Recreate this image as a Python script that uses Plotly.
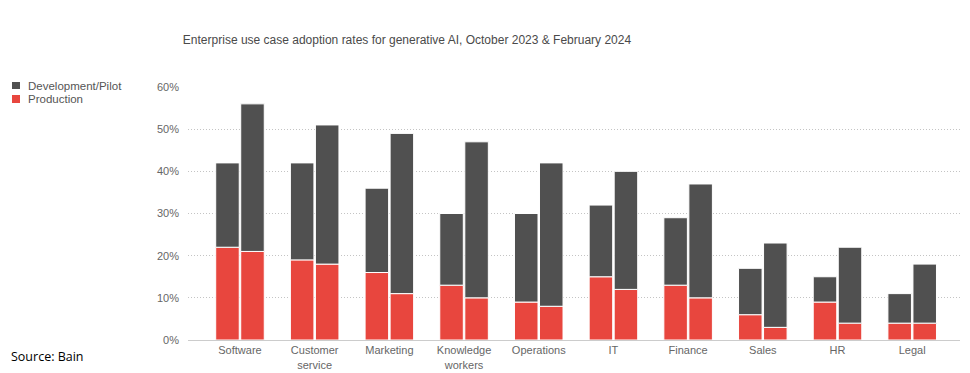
import plotly.graph_objects as go

categories = ["Software", "Customer<br>service", "Marketing", "Knowledge<br>workers", "Operations",
              "IT", "Finance", "Sales", "HR", "Legal"]
# Total adoption (%) and production share (%)
oct_total = [42, 42, 36, 30, 30, 32, 29, 17, 15, 11]
oct_prod = [22, 19, 16, 13, 9, 15, 13, 6, 9, 4]
feb_total = [56, 51, 49, 47, 42, 40, 37, 23, 22, 18]
feb_prod = [21, 18, 11, 10, 8, 12, 10, 3, 4, 4]
oct_dev = [t - p for t, p in zip(oct_total, oct_prod)]
feb_dev = [t - p for t, p in zip(feb_total, feb_prod)]
y_ticks = [0, 10, 20, 30, 40, 50, 60]
y_tick_labels = [f"{v}%" for v in y_ticks]

DARK = "#505050"
RED = "#E8463E"
W = 0.315
xi = list(range(len(categories)))

fig = go.Figure()
common = dict(width=W, marker_line_color="white", marker_line_width=1, showlegend=False,
              hoverinfo="skip")
fig.add_trace(go.Bar(x=xi, y=oct_prod, base=0, offset=-W - 0.01, marker_color=RED, **common))
fig.add_trace(go.Bar(x=xi, y=oct_dev, base=oct_prod, offset=-W - 0.01, marker_color=DARK, **common))
fig.add_trace(go.Bar(x=xi, y=feb_prod, base=0, offset=0.01, marker_color=RED, **common))
fig.add_trace(go.Bar(x=xi, y=feb_dev, base=feb_prod, offset=0.01, marker_color=DARK, **common))

# page offset of the figure (body margin)
OFF = 8
FW, FH = 970, 373
L, R, T, Bp = 188 - OFF, FW - (960 - OFF), 87 - OFF, 340 - OFF
B = FH - Bp
PW = FW - L - R
PH = FH - T - B

def px(x):
    return (x - OFF - L) / PW

def py(y):
    return (FH - B - (y - OFF)) / PH

shapes = [
    dict(type="rect", xref="paper", yref="paper", x0=px(12), x1=px(20), y0=py(89), y1=py(82),
         fillcolor=DARK, line_width=0),
    dict(type="rect", xref="paper", yref="paper", x0=px(12), x1=px(20), y0=py(103), y1=py(95),
         fillcolor=RED, line_width=0),
]
annotations = [
    dict(text="Development/Pilot", xref="paper", yref="paper", x=px(26), y=py(86), xanchor="left",
         yanchor="middle", showarrow=False, font=dict(size=11.5, color="#555")),
    dict(text="Production", xref="paper", yref="paper", x=px(26), y=py(99), xanchor="left",
         yanchor="middle", showarrow=False, font=dict(size=11.5, color="#555")),
    dict(text="Source: Bain", xref="paper", yref="paper", x=px(9), y=py(356), xanchor="left",
         yanchor="middle", showarrow=False, font=dict(size=12.5, color="#000", family="Open Sans")),
]

fig.update_layout(
    width=FW, height=FH,
    margin=dict(l=L, r=R, t=T, b=B, autoexpand=False),
    paper_bgcolor="white", plot_bgcolor="white",
    barmode="overlay",
    font=dict(family="Liberation Sans, Arial, sans-serif", size=11, color="#666"),
    title=dict(text="Enterprise use case adoption rates for generative AI, October 2023 & February 2024",
               x=(407 - OFF) / FW, xanchor="center", y=1 - (40 - OFF) / FH, yanchor="middle",
               font=dict(size=12, color="#4a4a4a")),
    shapes=shapes, annotations=annotations,
    xaxis=dict(tickmode="array", tickvals=xi, ticktext=categories, range=[-0.696, 9.64],
               showline=True, linecolor="#cccccc", linewidth=1, showgrid=False, ticks="",
               zeroline=False, automargin=False, tickfont=dict(size=11, color="#666")),
    yaxis=dict(range=[0, 60], tickmode="array", tickvals=y_ticks, ticktext=y_tick_labels,
               showgrid=True, gridcolor="#c4c4c4", griddash="1px,2px", gridwidth=1,
               zeroline=False, ticks="", ticklabelstandoff=8, automargin=False,
               tickfont=dict(size=11, color="#666")),
)

fig.write_html("out.html")
